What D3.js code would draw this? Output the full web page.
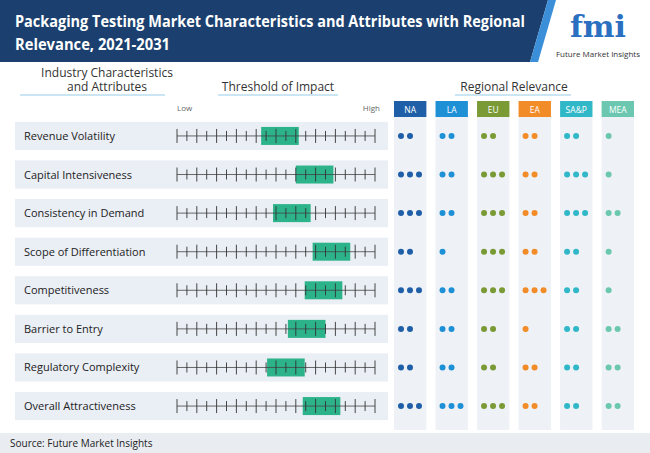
<!DOCTYPE html>
<html><head><meta charset="UTF-8">
<script src="https://d3js.org/d3.v7.min.js"></script>
<style>body{margin:0;font-family:"Open Sans",sans-serif}</style>
</head><body>
<svg id="c" width="650" height="453"></svg>
<script>
var attributes = ["Revenue Volatility","Capital Intensiveness","Consistency in Demand","Scope of Differentiation","Competitiveness","Barrier to Entry","Regulatory Complexity","Overall Attractiveness"];
var impactStart = [8.5, 12.0, 9.7, 13.7, 12.9, 11.2, 9.1, 12.7];
var impactWidth = 3.8;
var regions = ["NA","LA","EU","EA","SA&P","MEA"];
var regionColors = ["#1f5fa8","#1e90d6","#7a9a35","#f28c28","#31b8c8","#6cc7b0"];
var dots = [
  [2,2,2,2,2,1],
  [3,2,3,2,3,1],
  [3,2,3,2,3,2],
  [2,1,3,2,2,1],
  [3,2,3,3,2,1],
  [2,2,2,1,2,2],
  [2,2,2,2,2,2],
  [3,3,3,2,2,2]
];

var svg = d3.select("#c");
svg.append("rect").attr("width",650).attr("height",453).attr("fill","#fff");

// title bar
svg.append("path").attr("d","M0,0H548L530,62H0Z").attr("fill","#1b3f6e");
svg.append("path").attr("d","M548,0H556L538,62H530Z").attr("fill","#3a8fd8");
svg.append("text").attr("x",15).attr("y",27).attr("fill","#fff").attr("font-size",15.5).attr("font-weight","bold")
  .attr("textLength",510).attr("lengthAdjust","spacingAndGlyphs")
  .text("Packaging Testing Market Characteristics and Attributes with Regional");
svg.append("text").attr("x",15).attr("y",50).attr("fill","#fff").attr("font-size",15.5).attr("font-weight","bold")
  .attr("textLength",155).attr("lengthAdjust","spacingAndGlyphs")
  .text("Relevance, 2021-2031");
svg.append("text").attr("x",598).attr("y",37).attr("text-anchor","middle").attr("fill","#2a6fc0").attr("font-size",30).attr("font-weight","bold").attr("font-family","DejaVu Serif").text("fmi");
svg.append("text").attr("x",598).attr("y",57).attr("text-anchor","middle").attr("fill","#333").attr("font-size",8).text("Future Market Insights");

// headers
function header(x, lines, y0, ux1, ux2) {
  lines.forEach(function(l,i){
    svg.append("text").attr("x",x).attr("y",y0+i*14).attr("text-anchor","middle").attr("font-size",12).attr("fill","#333").text(l);
  });
  svg.append("line").attr("x1",ux1).attr("x2",ux2).attr("y1",95).attr("y2",95).attr("stroke","#b9dcef").attr("stroke-width",1.5);
}
header(107,["Industry Characteristics","and Attributes"],77,20,165);
header(278,["Threshold of Impact"],91,218,338);
header(514,["Regional Relevance"],91,455,571);

var y = d3.scaleBand().domain(attributes).range([118,424]).paddingInner(0.27).paddingOuter(0.1);
var x = d3.scaleLinear().domain([0,20]).range([177,375]);
var rx = d3.scaleBand().domain(regions).range([394,634]).paddingInner(0.22);

svg.append("text").attr("x",177).attr("y",111).attr("font-size",8).attr("fill","#666").text("Low");
svg.append("text").attr("x",380).attr("y",111).attr("text-anchor","end").attr("font-size",8).attr("fill","#666").text("High");

// region columns
regions.forEach(function(r,i){
  svg.append("rect").attr("x",rx(r)).attr("y",117).attr("width",rx.bandwidth()).attr("height",313).attr("fill","#eef1f6");
  svg.append("rect").attr("x",rx(r)).attr("y",101).attr("width",rx.bandwidth()).attr("height",16).attr("fill",regionColors[i]);
  svg.append("text").attr("x",rx(r)+rx.bandwidth()/2).attr("y",113).attr("text-anchor","middle").attr("font-size",8.5).attr("fill","#fff").text(r);
});

attributes.forEach(function(a,i){
  var yc = y(a)+y.bandwidth()/2;
  svg.append("rect").attr("x",15).attr("y",y(a)).attr("width",373).attr("height",y.bandwidth()).attr("fill","#eaeef5");
  svg.append("text").attr("x",24).attr("y",yc+4).attr("font-size",11).attr("fill","#222").text(a);
  svg.append("rect").attr("x",x(impactStart[i])).attr("y",yc-9).attr("width",x(impactStart[i]+impactWidth)-x(impactStart[i])).attr("height",18).attr("fill","#2db38a");
  svg.append("line").attr("x1",x(0)).attr("x2",x(20)).attr("y1",yc).attr("y2",yc).attr("stroke","#444").attr("stroke-width",0.8);
  d3.range(21).forEach(function(t){
    var h = (t%2===0)?7:5;
    svg.append("line").attr("x1",x(t)).attr("x2",x(t)).attr("y1",yc-h).attr("y2",yc+h).attr("stroke","#333").attr("stroke-width",0.9);
  });
  regions.forEach(function(r,j){
    d3.range(dots[i][j]).forEach(function(k){
      svg.append("circle").attr("cx",rx(r)+7+k*9).attr("cy",yc).attr("r",3).attr("fill",regionColors[j]);
    });
  });
});

// footer
svg.append("rect").attr("x",0).attr("y",433).attr("width",650).attr("height",20).attr("fill","#e9ecf1");
svg.append("text").attr("x",10).attr("y",447).attr("font-size",10).attr("fill","#222").text("Source: Future Market Insights");
</script>
</body></html>
